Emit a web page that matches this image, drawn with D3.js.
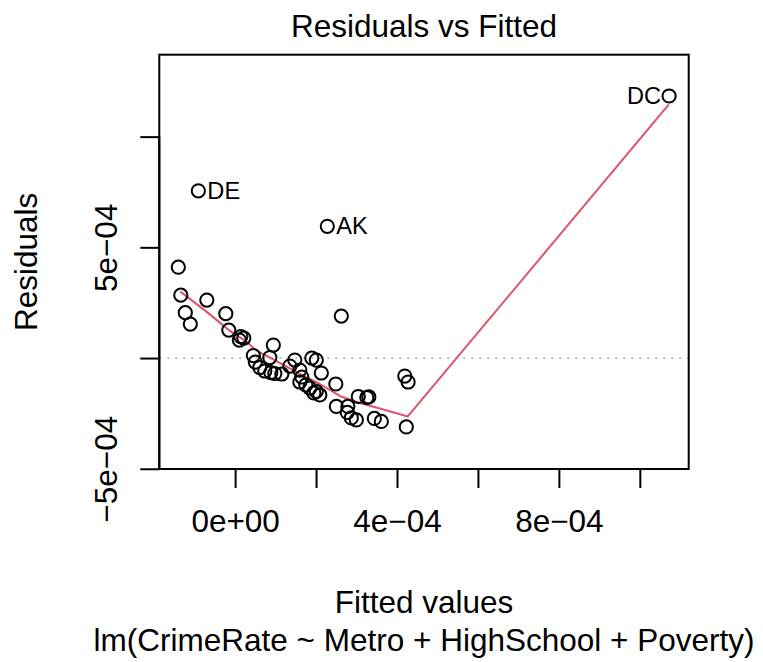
<!DOCTYPE html>
<html>
<head>
<meta charset="utf-8">
<script src="https://cdn.jsdelivr.net/npm/d3@7"></script>
<style>
  html, body { margin: 0; padding: 0; background: #fff; }
  svg { display: block; }
  text { font-family: "Liberation Sans", Arial, Helvetica, sans-serif; fill: #000; }
</style>
</head>
<body>
<svg id="chart" width="763" height="662"></svg>
<script>
// ---- data (fitted values and residuals) ----
const fitted = [
  -1.404e-4, -1.342e-4, -0.699e-4, -1.231e-4, -1.107e-4, -0.230e-4, -0.156e-4, 0.141e-4, 0.215e-4, 0.104e-4,
  0.944e-4, 0.450e-4, 0.499e-4, 0.610e-4, 0.857e-4, 0.734e-4, 0.882e-4, 1.154e-4, 1.352e-4, 1.475e-4,
  1.599e-4, 1.648e-4, 1.599e-4, 1.747e-4, 1.895e-4, 2.006e-4, 2.130e-4, 1.846e-4, 2.006e-4, 2.093e-4,
  1.945e-4, 2.488e-4, 2.624e-4, 2.278e-4, -0.909e-4, 10.724e-4, 2.501e-4, 2.785e-4, 2.772e-4, 2.871e-4,
  2.995e-4, 3.044e-4, 3.254e-4, 3.304e-4, 3.440e-4, 3.613e-4, 4.193e-4, 4.275e-4, 4.230e-4, 0.981e-4
];
const residuals = [
  4.103e-4, 2.840e-4, 2.615e-4, 2.051e-4, 1.533e-4, 2.006e-4, 1.262e-4, 0.969e-4, 0.902e-4, 0.812e-4,
  0.586e-4, 0.113e-4, -0.180e-4, -0.428e-4, 0.023e-4, -0.586e-4, -0.654e-4, -0.721e-4, -0.361e-4, -0.090e-4,
  -0.541e-4, -0.857e-4, -1.082e-4, -1.217e-4, 0.000e-4, -0.090e-4, -0.676e-4, -1.353e-4, -1.510e-4, -1.668e-4,
  -1.578e-4, -1.172e-4, 1.894e-4, 5.951e-4, 7.552e-4, 11.835e-4, -2.187e-4, -2.187e-4, -2.457e-4, -2.705e-4,
  -2.795e-4, -1.736e-4, -1.781e-4, -1.758e-4, -2.728e-4, -2.863e-4, -0.812e-4, -1.082e-4, -3.111e-4, -0.699e-4
];
const pointLabels = [
  "", "", "", "", "", "", "", "", "", "",
  "", "", "", "", "", "", "", "", "", "",
  "", "", "", "", "", "", "", "", "", "",
  "", "", "", "AK", "DE", "DC", "", "", "", "",
  "", "", "", "", "", "", "", "", "", ""
];
// lowess smooth of residuals on fitted values
const smoothX = [-1.354e-4, -0.724e-4, -0.156e-4, 0.264e-4, 0.511e-4, 0.882e-4, 1.277e-4, 1.599e-4, 2.093e-4, 2.587e-4, 3.081e-4, 3.576e-4, 4.267e-4, 10.717e-4];
const smoothY = [2.998e-4, 2.119e-4, 1.262e-4, 0.766e-4, 0.361e-4, 0.000e-4, -0.383e-4, -0.721e-4, -1.172e-4, -1.713e-4, -2.029e-4, -2.277e-4, -2.638e-4, 11.452e-4];

const xTickValues = [0, 2e-4, 4e-4, 6e-4, 8e-4, 10e-4];
const xTickLabels = ["0e+00", "", "4e\u221204", "", "8e\u221204", ""];
const yTickValues = [-5e-4, 0, 5e-4, 10e-4];
const yTickLabels = ["\u22125e\u221204", "", "5e\u221204", ""];

const titleText = "Residuals vs Fitted";
const xLabel = "Fitted values";
const yLabel = "Residuals";
const subCaption = "lm(CrimeRate ~ Metro + HighSchool + Poverty)";

// ---- layout ----
const box = { left: 159.3, right: 688.7, top: 54.7, bottom: 469 };
const fs = 31.5;
const tickLen = 19;
const lw = 2;

const svg = d3.select("#chart");

const x = d3.scaleLinear()
  .domain([-1.8736e-4, 11.208e-4])
  .range([box.left, box.right]);
const y = d3.scaleLinear()
  .domain([-5.011e-4, 13.7e-4])
  .range([box.bottom, box.top]);

// zero reference line (dotted grey)
svg.append("line")
  .attr("x1", box.left).attr("x2", box.right)
  .attr("y1", y(0)).attr("y2", y(0))
  .attr("stroke", "#bebebe").attr("stroke-width", lw)
  .attr("stroke-dasharray", "2,6");

// smooth line
const line = d3.line().x(d => x(d[0])).y(d => y(d[1]));
svg.append("path")
  .datum(d3.zip(smoothX, smoothY))
  .attr("d", line)
  .attr("fill", "none")
  .attr("stroke", "#DF536B")
  .attr("stroke-width", lw)
  .attr("stroke-linejoin", "round");

// points
const pts = d3.zip(fitted, residuals, pointLabels);
svg.append("g").selectAll("circle")
  .data(pts).join("circle")
  .attr("cx", d => x(d[0]))
  .attr("cy", d => y(d[1]))
  .attr("r", 6.6)
  .attr("fill", "none")
  .attr("stroke", "#000")
  .attr("stroke-width", lw);

// point labels
svg.append("g").selectAll("text")
  .data(pts.filter(d => d[2] !== ""))
  .join("text")
  .attr("x", d => d[2] === "DC" ? x(d[0]) - 8 : x(d[0]) + 9)
  .attr("y", d => y(d[1]) + 8)
  .attr("text-anchor", d => d[2] === "DC" ? "end" : "start")
  .attr("font-size", fs * 0.75)
  .text(d => d[2]);

// box
svg.append("rect")
  .attr("x", box.left).attr("y", box.top)
  .attr("width", box.right - box.left).attr("height", box.bottom - box.top)
  .attr("fill", "none").attr("stroke", "#000").attr("stroke-width", lw);

// x axis
const xAxis = d3.axisBottom(x)
  .tickValues(xTickValues)
  .tickFormat((d, i) => xTickLabels[i])
  .tickSizeInner(tickLen).tickSizeOuter(0).tickPadding(22);
const gx = svg.append("g").attr("transform", `translate(0,${box.bottom})`).call(xAxis);
gx.selectAll("path, line").attr("stroke", "#000").attr("stroke-width", lw);
gx.selectAll("text").attr("font-size", fs).attr("font-family", "Liberation Sans, Arial, sans-serif");

// y axis
const yAxis = d3.axisLeft(y)
  .tickValues(yTickValues)
  .tickFormat((d, i) => yTickLabels[i])
  .tickSizeInner(tickLen).tickSizeOuter(0);
const gy = svg.append("g").attr("transform", `translate(${box.left},0)`).call(yAxis);
gy.selectAll("path, line").attr("stroke", "#000").attr("stroke-width", lw);
gy.selectAll("text")
  .attr("font-size", fs)
  .attr("font-family", "Liberation Sans, Arial, sans-serif")
  .attr("x", null).attr("dy", null).attr("y", null)
  .attr("text-anchor", "middle")
  .attr("transform", `translate(${-tickLen - 23},0) rotate(-90)`);
gy.selectAll(".domain").attr("d", `M0,${y(yTickValues[yTickValues.length-1])}V${y(yTickValues[0])}`);
gx.selectAll(".domain").attr("d", `M${x(xTickValues[0])},0H${x(xTickValues[xTickValues.length-1])}`);

const cx = (box.left + box.right) / 2;
// title
svg.append("text").attr("x", cx).attr("y", 37)
  .attr("text-anchor", "middle").attr("font-size", fs).text(titleText);
// x label
svg.append("text").attr("x", cx).attr("y", 613)
  .attr("text-anchor", "middle").attr("font-size", fs).text(xLabel);
// sub caption
svg.append("text").attr("x", cx).attr("y", 651)
  .attr("text-anchor", "middle").attr("font-size", fs).text(subCaption);
// y label
svg.append("text")
  .attr("transform", `translate(37,${(box.top + box.bottom) / 2}) rotate(-90)`)
  .attr("text-anchor", "middle").attr("font-size", fs).text(yLabel);
</script>
</body>
</html>
